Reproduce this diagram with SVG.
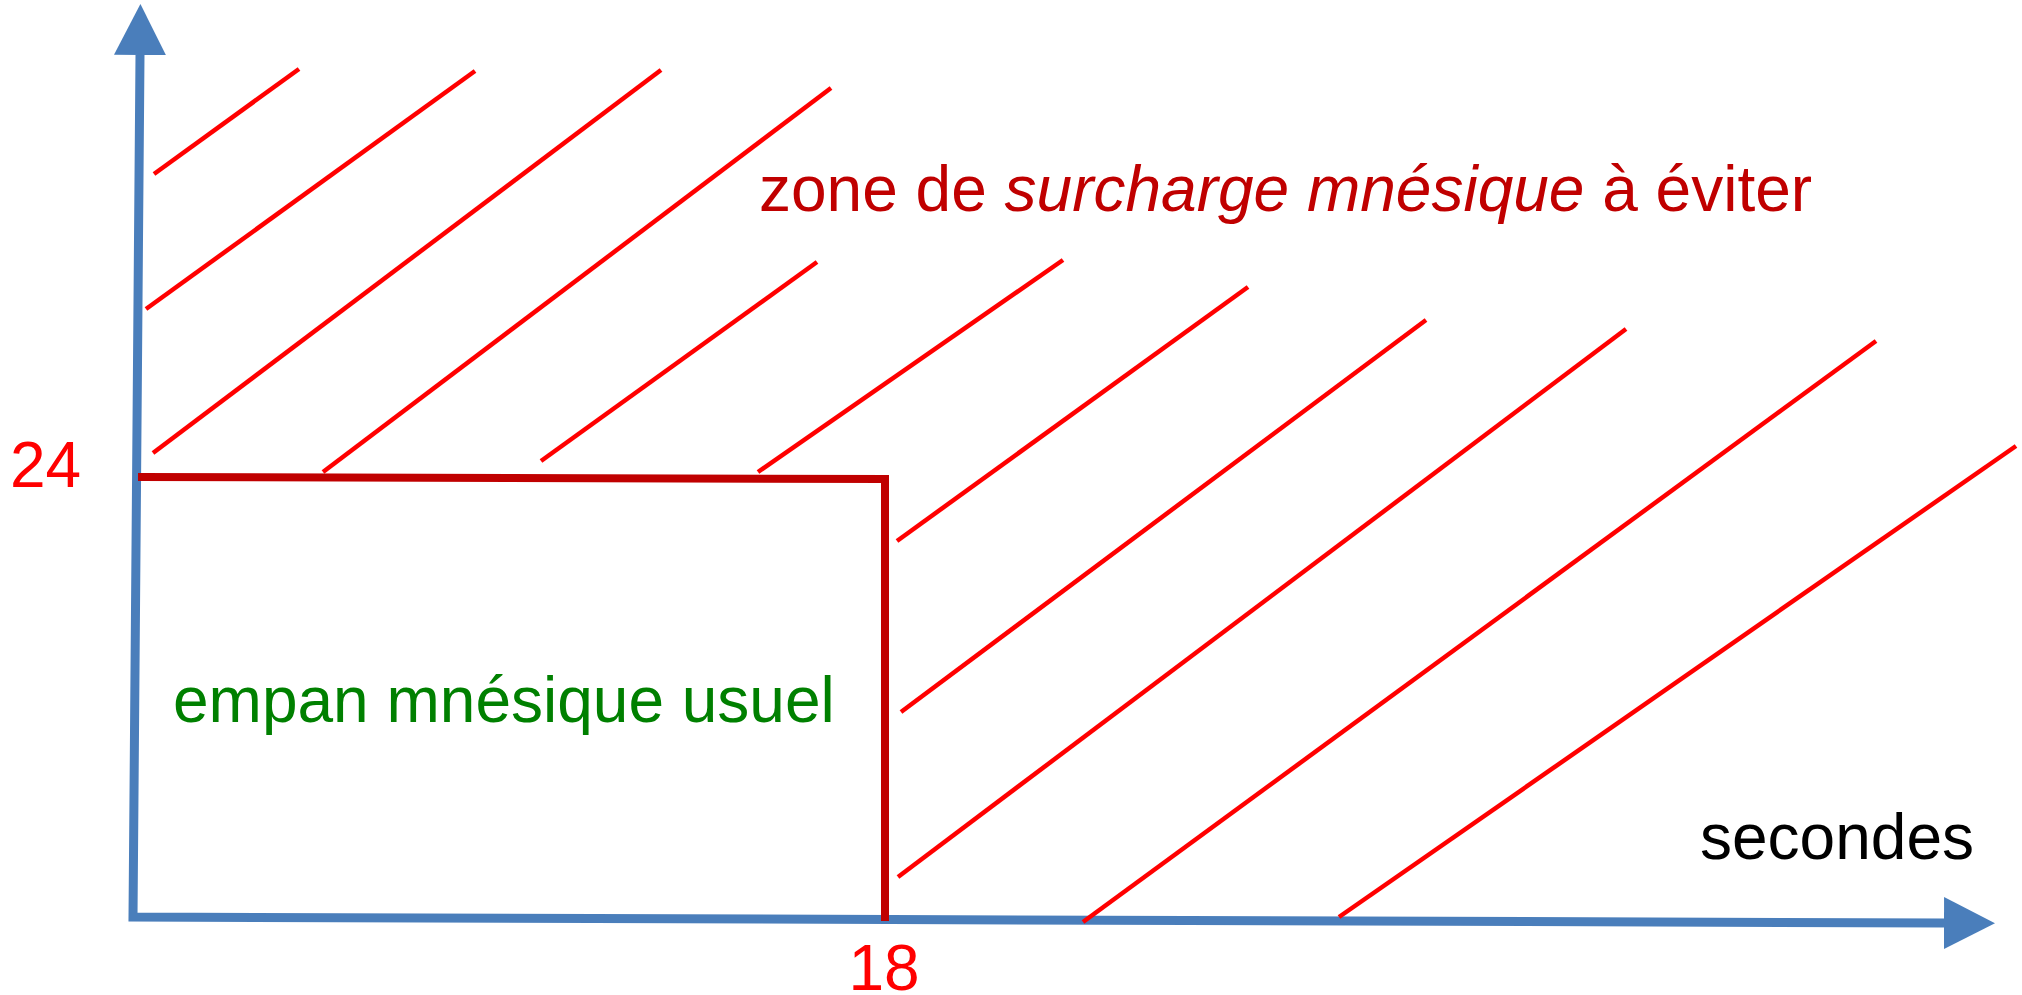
<svg xmlns="http://www.w3.org/2000/svg" width="2022" height="995" viewBox="0 0 2022 995">
  <style>
    .axis { fill: none; stroke: #4A7EBB; stroke-width: 9; stroke-linejoin: miter; }
    .bound { fill: none; stroke: #C00000; stroke-width: 8; stroke-linejoin: miter; }
    .hatch { stroke: #FF0000; stroke-width: 4.5; stroke-linecap: butt; }
    .lbl { font-family: "Liberation Sans", Arial, sans-serif; font-size: 64px; }
  </style>
  <defs>
    <marker id="arrow" viewBox="0 0 51 52" refX="0" refY="26" markerWidth="51" markerHeight="52" markerUnits="userSpaceOnUse" orient="auto-start-reverse">
      <polygon points="0,0 51,26 0,52" fill="#4A7EBB"/>
    </marker>
  </defs>
  <rect width="2022" height="995" fill="#FFFFFF"/>

  <g id="axes">
    <path class="axis" d="M140,55 L133,917 L1944,923" marker-start="url(#arrow)" marker-end="url(#arrow)"/>
  </g>

  <g id="hatching">
    <line class="hatch" x1="154" y1="174" x2="299" y2="69"/>
    <line class="hatch" x1="146" y1="309" x2="475" y2="71"/>
    <line class="hatch" x1="153" y1="453" x2="661" y2="70"/>
    <line class="hatch" x1="323" y1="472" x2="831" y2="88"/>
    <line class="hatch" x1="541" y1="461" x2="817" y2="262"/>
    <line class="hatch" x1="758" y1="472" x2="1063" y2="260"/>
    <line class="hatch" x1="897" y1="541" x2="1248" y2="287"/>
    <line class="hatch" x1="901" y1="712" x2="1426" y2="320"/>
    <line class="hatch" x1="898" y1="877" x2="1626" y2="329"/>
    <line class="hatch" x1="1083" y1="922" x2="1876" y2="341"/>
    <line class="hatch" x1="1339" y1="917" x2="2016" y2="446"/>
  </g>

  <g id="boundary">
    <path class="bound" d="M138,477 L885,479 L885,921"/>
  </g>

  <g id="label-zone">
    <text class="lbl" x="759" y="211" fill="#C00000">zone de <tspan font-style="italic">surcharge mnésique</tspan> à éviter</text>
  </g>
  <g id="label-empan">
    <text class="lbl" x="173" y="722" fill="#008000">empan mnésique usuel</text>
  </g>
  <g id="label-24">
    <text class="lbl" x="10" y="487" fill="#FF0000">24</text>
  </g>
  <g id="label-18">
    <text class="lbl" x="884" y="990" fill="#FF0000" text-anchor="middle">18</text>
  </g>
  <g id="label-secondes">
    <text class="lbl" x="1700" y="859" fill="#000000">secondes</text>
  </g>
</svg>
